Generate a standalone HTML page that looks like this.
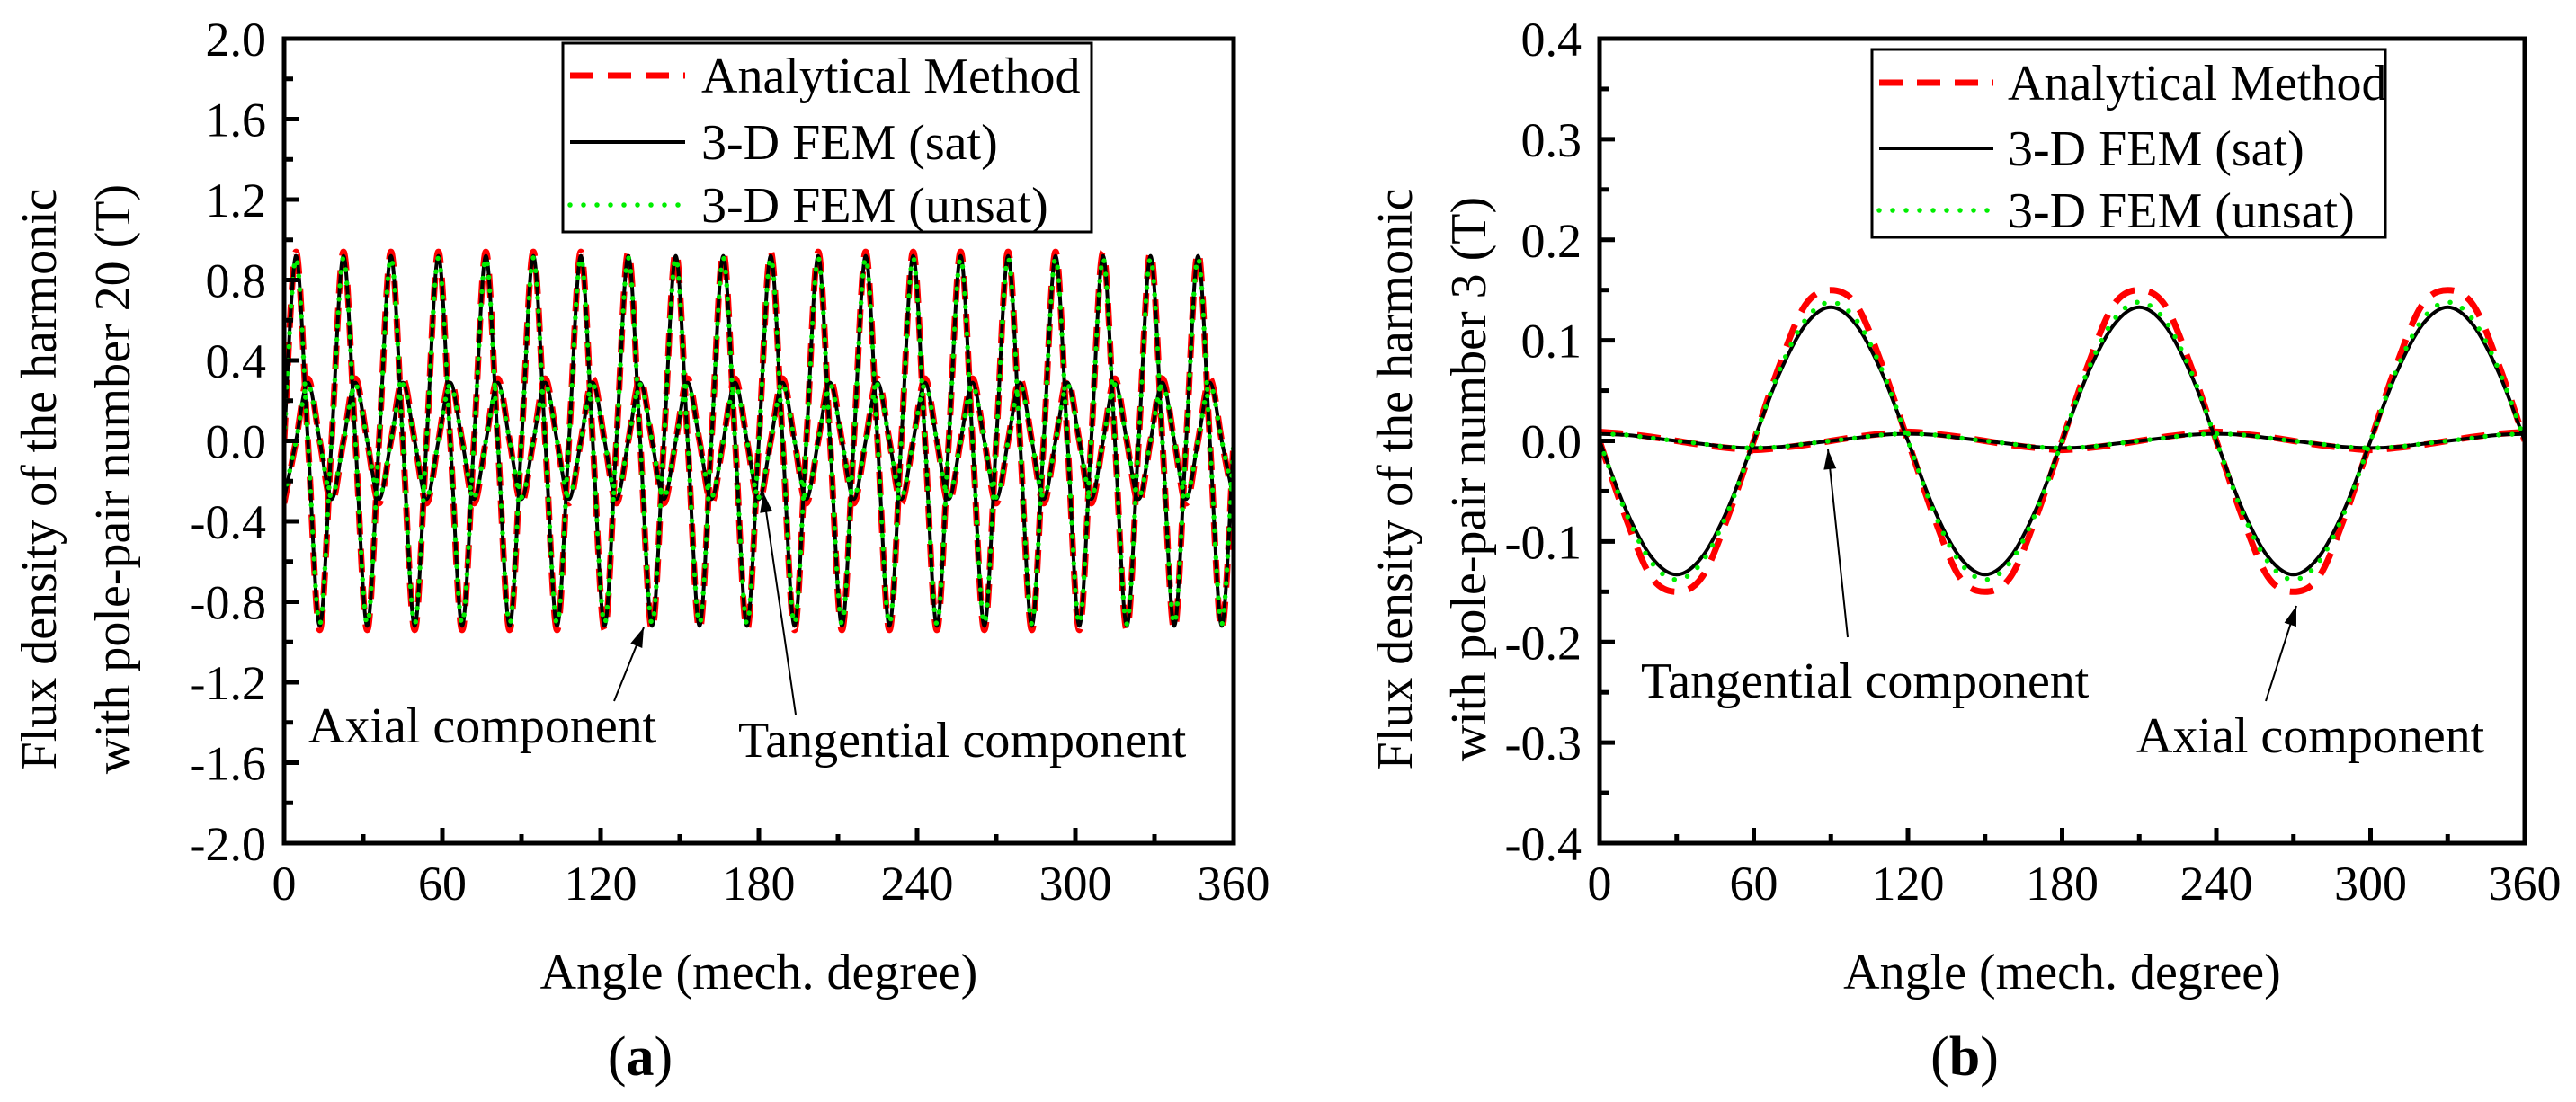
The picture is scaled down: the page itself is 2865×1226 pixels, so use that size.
<!DOCTYPE html>
<html><head><meta charset="utf-8">
<style>
html,body{margin:0;padding:0;background:#fff;}
svg{display:block;font-family:"Liberation Serif",serif;}
</style></head>
<body>
<svg id="fig" width="2865" height="1226" viewBox="0 0 2865 1226" xmlns="http://www.w3.org/2000/svg"></svg>
<script>
// ---------- Panel (a) data: harmonic 20, samples every 4.5 degrees ----------
const aAngles = [];
for (let i = 0; i <= 80; i++) aAngles.push(i * 4.5);
const aAxialAnalytical = [0,.94,0,-.94,0,.94,0,-.94,0,.94,0,-.94,0,.94,0,-.94,0,.94,0,-.94,0,.94,0,-.94,0,.94,0,-.94,0,.94,0,-.94,0,.94,0,-.94,0,.94,0,-.94,0,.94,0,-.94,0,.94,0,-.94,0,.94,0,-.94,0,.94,0,-.94,0,.94,0,-.94,0,.94,0,-.94,0,.94,0,-.94,0,.94,0,-.94,0,.94,0,-.94,0,.94,0,-.94,0];
const aAxialSat = [0,.92,0,-.92,0,.92,0,-.92,0,.92,0,-.92,0,.92,0,-.92,0,.92,0,-.92,0,.92,0,-.92,0,.92,0,-.92,0,.92,0,-.92,0,.92,0,-.92,0,.92,0,-.92,0,.92,0,-.92,0,.92,0,-.92,0,.92,0,-.92,0,.92,0,-.92,0,.92,0,-.92,0,.92,0,-.92,0,.92,0,-.92,0,.92,0,-.92,0,.92,0,-.92,0,.92,0,-.92,0];
const aAxialUnsat = [0,.91,0,-.91,0,.91,0,-.91,0,.91,0,-.91,0,.91,0,-.91,0,.91,0,-.91,0,.91,0,-.91,0,.91,0,-.91,0,.91,0,-.91,0,.91,0,-.91,0,.91,0,-.91,0,.91,0,-.91,0,.91,0,-.91,0,.91,0,-.91,0,.91,0,-.91,0,.91,0,-.91,0,.91,0,-.91,0,.91,0,-.91,0,.91,0,-.91,0,.91,0,-.91,0,.91,0,-.91,0];
const aTangAnalytical = [-.31,0,.31,0,-.31,0,.31,0,-.31,0,.31,0,-.31,0,.31,0,-.31,0,.31,0,-.31,0,.31,0,-.31,0,.31,0,-.31,0,.31,0,-.31,0,.31,0,-.31,0,.31,0,-.31,0,.31,0,-.31,0,.31,0,-.31,0,.31,0,-.31,0,.31,0,-.31,0,.31,0,-.31,0,.31,0,-.31,0,.31,0,-.31,0,.31,0,-.31,0,.31,0,-.31,0,.31,0,-.31];
const aTangSat = [-.29,0,.29,0,-.29,0,.29,0,-.29,0,.29,0,-.29,0,.29,0,-.29,0,.29,0,-.29,0,.29,0,-.29,0,.29,0,-.29,0,.29,0,-.29,0,.29,0,-.29,0,.29,0,-.29,0,.29,0,-.29,0,.29,0,-.29,0,.29,0,-.29,0,.29,0,-.29,0,.29,0,-.29,0,.29,0,-.29,0,.29,0,-.29,0,.29,0,-.29,0,.29,0,-.29,0,.29,0,-.29];
const aTangUnsat = [-.28,0,.28,0,-.28,0,.28,0,-.28,0,.28,0,-.28,0,.28,0,-.28,0,.28,0,-.28,0,.28,0,-.28,0,.28,0,-.28,0,.28,0,-.28,0,.28,0,-.28,0,.28,0,-.28,0,.28,0,-.28,0,.28,0,-.28,0,.28,0,-.28,0,.28,0,-.28,0,.28,0,-.28,0,.28,0,-.28,0,.28,0,-.28,0,.28,0,-.28,0,.28,0,-.28,0,.28,0,-.28];
const aYTicks = ["-2.0","-1.6","-1.2","-0.8","-0.4","0.0","0.4","0.8","1.2","1.6","2.0"];
const xTicks = ["0","60","120","180","240","300","360"];

// ---------- Panel (b) data: harmonic 3, samples every 10 degrees ----------
const bAngles = [];
for (let i = 0; i <= 36; i++) bAngles.push(i * 10);
const bAxialAnalytical = [0,-.075,-.135,-.15,-.135,-.075,0,.075,.135,.15,.135,.075,0,-.075,-.135,-.15,-.135,-.075,0,.075,.135,.15,.135,.075,0,-.075,-.135,-.15,-.135,-.075,0,.075,.135,.15,.135,.075,0];
const bAxialSat = [0,-.067,-.115,-.133,-.115,-.067,0,.067,.115,.133,.115,.067,0,-.067,-.115,-.133,-.115,-.067,0,.067,.115,.133,.115,.067,0,-.067,-.115,-.133,-.115,-.067,0,.067,.115,.133,.115,.067,0];
const bAxialUnsat = [0,-.07,-.12,-.138,-.12,-.07,0,.07,.12,.138,.12,.07,0,-.07,-.12,-.138,-.12,-.07,0,.07,.12,.138,.12,.07,0,-.07,-.12,-.138,-.12,-.07,0,.07,.12,.138,.12,.07,0];
const bTangAnalytical = [.009,.007,.004,0,-.004,-.007,-.009,-.007,-.004,0,.004,.007,.009,.007,.004,0,-.004,-.007,-.009,-.007,-.004,0,.004,.007,.009,.007,.004,0,-.004,-.007,-.009,-.007,-.004,0,.004,.007,.009];
const bTangSat = [.007,.006,.003,0,-.003,-.006,-.007,-.006,-.003,0,.003,.006,.007,.006,.003,0,-.003,-.006,-.007,-.006,-.003,0,.003,.006,.007,.006,.003,0,-.003,-.006,-.007,-.006,-.003,0,.003,.006,.007];
const bTangUnsat = [.007,.006,.003,0,-.003,-.006,-.007,-.006,-.003,0,.003,.006,.007,.006,.003,0,-.003,-.006,-.007,-.006,-.003,0,.003,.006,.007,.006,.003,0,-.003,-.006,-.007,-.006,-.003,0,.003,.006,.007];
const bYTicks = ["-0.4","-0.3","-0.2","-0.1","0.0","0.1","0.2","0.3","0.4"];

const NS = "http://www.w3.org/2000/svg";
const svg = document.getElementById("fig");
function mk(tag, attrs, parent) {
  const e = document.createElementNS(NS, tag);
  for (const k in attrs) e.setAttribute(k, attrs[k]);
  (parent || svg).appendChild(e);
  return e;
}
function smoothPath(xs, ys) {
  let d = "M" + xs[0].toFixed(2) + "," + ys[0].toFixed(2);
  for (let i = 0; i < xs.length - 1; i++) {
    const x0 = xs[Math.max(i - 1, 0)], y0 = ys[Math.max(i - 1, 0)];
    const x1 = xs[i], y1 = ys[i], x2 = xs[i + 1], y2 = ys[i + 1];
    const x3 = xs[Math.min(i + 2, xs.length - 1)], y3 = ys[Math.min(i + 2, xs.length - 1)];
    const c1x = x1 + (x2 - x0) / 6, c1y = y1 + (y2 - y0) / 6;
    const c2x = x2 - (x3 - x1) / 6, c2y = y2 - (y3 - y1) / 6;
    d += " C" + c1x.toFixed(2) + "," + c1y.toFixed(2) + " " + c2x.toFixed(2) + "," + c2y.toFixed(2) + " " + x2.toFixed(2) + "," + y2.toFixed(2);
  }
  return d;
}
const styles = {
  analytical: {stroke: "#ff0000", "stroke-width": 7, fill: "none", "stroke-dasharray": "26 16"},
  sat: {stroke: "#000", "stroke-width": 4, fill: "none"},
  unsat: {stroke: "#00ee00", "stroke-width": 5.5, fill: "none", "stroke-dasharray": "0 15", "stroke-linecap": "round"}
};

function panel(cfg) {
  const g = mk("g", {});
  
  
  const sx = v => cfg.L + (v - 0) / 360 * (cfg.R - cfg.L);
  const sy = v => cfg.B - (v - cfg.ymin) / (cfg.ymax - cfg.ymin) * (cfg.B - cfg.T);
  const clipId = cfg.name + "-clip";
  const cp = mk("clipPath", {id: clipId}, g);
  mk("rect", {x: cfg.L, y: cfg.T, width: cfg.R - cfg.L, height: cfg.B - cfg.T}, cp);
  const series = mk("g", {"clip-path": "url(#" + clipId + ")"}, g);
  
  
  const order = [["analytical", cfg.axA, "axial-analytical"], ["analytical", cfg.tgA, "tangential-analytical"],
                 ["sat", cfg.axS, "axial-fem-sat"], ["sat", cfg.tgS, "tangential-fem-sat"],
                 ["unsat", cfg.axU, "axial-fem-unsat"], ["unsat", cfg.tgU, "tangential-fem-unsat"]];
  for (const [st, vals, nm] of order) {
    const p = mk("path", Object.assign({d: smoothPath(cfg.xs.map(sx), vals.map(sy))}, styles[st]), series);
    
    
  }
  const fr = mk("rect", {x: cfg.L, y: cfg.T, width: cfg.R - cfg.L, height: cfg.B - cfg.T, fill: "none", stroke: "#000", "stroke-width": 5}, g);
  
  
  const yt = mk("g", {}, g);
  
  
  const n = cfg.yticks.length;
  for (let i = 0; i < n; i++) {
    const v = parseFloat(cfg.yticks[i]);
    const y = sy(v);
    if (i > 0 && i < n - 1) mk("line", {x1: cfg.L, x2: cfg.L + 17, y1: y, y2: y, stroke: "#000", "stroke-width": 5}, yt);
    if (i < n - 1) {
      const ym = sy(v + cfg.ystep / 2);
      mk("line", {x1: cfg.L, x2: cfg.L + 10, y1: ym, y2: ym, stroke: "#000", "stroke-width": 5}, yt);
    }
    const t = mk("text", {x: cfg.L - 20, y: y + 19, "text-anchor": "end", "font-size": 54}, yt);
    t.textContent = cfg.yticks[i];
    
    
  }
  const xt = mk("g", {}, g);
  
  
  for (let i = 0; i < xTicks.length; i++) {
    const v = parseFloat(xTicks[i]);
    const x = sx(v);
    if (i > 0 && i < xTicks.length - 1) mk("line", {x1: x, x2: x, y1: cfg.B, y2: cfg.B - 17, stroke: "#000", "stroke-width": 5}, xt);
    if (i < xTicks.length - 1) {
      const xm = sx(v + 30);
      mk("line", {x1: xm, x2: xm, y1: cfg.B, y2: cfg.B - 10, stroke: "#000", "stroke-width": 5}, xt);
    }
    const t = mk("text", {x: x, y: cfg.B + 63, "text-anchor": "middle", "font-size": 54}, xt);
    t.textContent = xTicks[i];
    
    
  }
  const xtt = mk("text", {x: (cfg.L + cfg.R) / 2, y: 1100, "text-anchor": "middle", "font-size": 56}, g);
  xtt.textContent = "Angle (mech. degree)";
  
  
  const ytt = mk("text", {transform: "translate(" + cfg.ytx + ",533) rotate(-90)", "text-anchor": "middle", "font-size": 56}, g);
  
  
  const s1 = mk("tspan", {x: 0, y: 0}, ytt); s1.textContent = "Flux density of the harmonic";
  const s2 = mk("tspan", {x: 0, y: 82}, ytt); s2.textContent = cfg.ytitle2;
  const pl = mk("text", {x: cfg.lblx, y: 1196, "text-anchor": "middle", "font-size": 62}, g);
  
  
  const p1 = mk("tspan", {}, pl); p1.textContent = "(";
  const p2 = mk("tspan", {"font-weight": "bold"}, pl); p2.textContent = cfg.letter;
  const p3 = mk("tspan", {}, pl); p3.textContent = ")";
  const lg = mk("g", {}, g);
  
  
  const lb = cfg.leg;
  mk("rect", {x: lb.x, y: lb.y, width: lb.w, height: lb.h, fill: "#fff", stroke: "#000", "stroke-width": 3}, lg);
  const entries = [["analytical", "Analytical Method"], ["sat", "3-D FEM (sat)"], ["unsat", "3-D FEM (unsat)"]];
  entries.forEach((en, i) => {
    const y = lb.rows[i];
    const ent = mk("g", {}, lg);
    
    
    mk("line", Object.assign({x1: lb.lx1, x2: lb.lx2, y1: y, y2: y}, styles[en[0]]), ent);
    const t = mk("text", {x: lb.tx, y: y + 19, "font-size": 56}, ent);
    t.textContent = en[1];
  });
  cfg.ann.forEach(a => {
    const ag = mk("g", {}, g);
    
    
    const t = mk("text", {x: a.tx, y: a.ty, "font-size": 56}, ag);
    t.textContent = a.text;
    mk("line", {x1: a.x1, y1: a.y1, x2: a.x2, y2: a.y2, stroke: "#000", "stroke-width": 2}, ag);
    const ang = Math.atan2(a.y2 - a.y1, a.x2 - a.x1);
    const L = 22, W = 7;
    const bx = a.x2 - L * Math.cos(ang), by = a.y2 - L * Math.sin(ang);
    const px = -Math.sin(ang) * W, py = Math.cos(ang) * W;
    mk("polygon", {points: a.x2 + "," + a.y2 + " " + (bx + px) + "," + (by + py) + " " + (bx - px) + "," + (by - py), fill: "#000"}, ag);
  });
}

panel({
  name: "panel-a", L: 316, R: 1372, T: 43, B: 938, ymin: -2, ymax: 2, ystep: 0.4,
  yticks: aYTicks, xs: aAngles,
  axA: aAxialAnalytical, axS: aAxialSat, axU: aAxialUnsat,
  tgA: aTangAnalytical, tgS: aTangSat, tgU: aTangUnsat,
  ytx: 62, ytitle2: "with pole-pair number 20 (T)", lblx: 712, letter: "a",
  leg: {x: 626, y: 48, w: 588, h: 210, rows: [84, 158, 228], lx1: 634, lx2: 762, tx: 780},
  ann: [
    {name: "axial-annotation", text: "Axial component", tx: 343, ty: 826, x1: 683, y1: 780, x2: 716, y2: 698},
    {name: "tangential-annotation", text: "Tangential component", tx: 821, ty: 842, x1: 885, y1: 795, x2: 849, y2: 548}
  ]
});
panel({
  name: "panel-b", L: 1779, R: 2808, T: 43, B: 938, ymin: -0.4, ymax: 0.4, ystep: 0.1,
  yticks: bYTicks, xs: bAngles,
  axA: bAxialAnalytical, axS: bAxialSat, axU: bAxialUnsat,
  tgA: bTangAnalytical, tgS: bTangSat, tgU: bTangUnsat,
  ytx: 1570, ytitle2: "with pole-pair number 3 (T)", lblx: 2185, letter: "b",
  leg: {x: 2082, y: 55, w: 571, h: 209, rows: [92, 165, 234], lx1: 2090, lx2: 2217, tx: 2233},
  ann: [
    {name: "tangential-annotation", text: "Tangential component", tx: 1825, ty: 776, x1: 2055, y1: 709, x2: 2033, y2: 500},
    {name: "axial-annotation", text: "Axial component", tx: 2376, ty: 837, x1: 2520, y1: 780, x2: 2554, y2: 674}
  ]
});
</script>
</body></html>
